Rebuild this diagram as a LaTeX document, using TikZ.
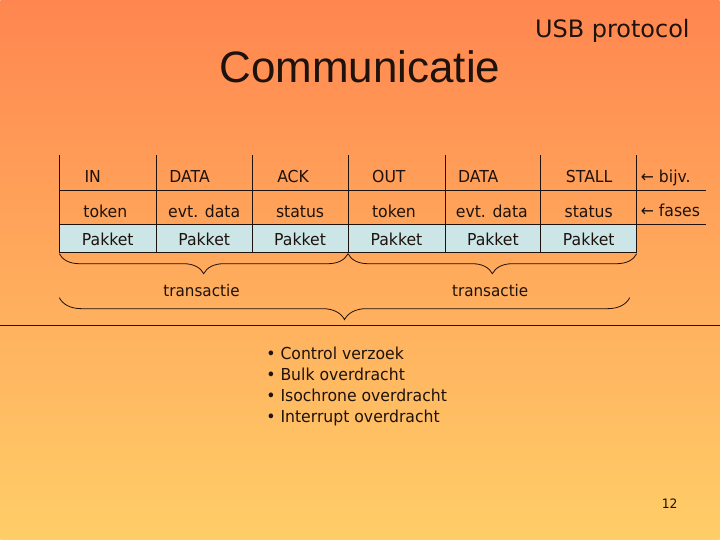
\documentclass[tikz,border=0pt]{standalone}
\usepackage{fontspec}
\setmainfont{DejaVu Sans}[FakeStretch=0.95]
\newfontfamily\titlefont{Liberation Sans}
\newfontfamily\subfont{DejaVu Sans}
\usetikzlibrary{decorations.pathreplacing}
\definecolor{bgtop}{RGB}{255,134,80}
\definecolor{bgbot}{RGB}{255,206,104}
\definecolor{pakblue}{RGB}{204,230,232}
\definecolor{ink}{RGB}{30,18,12}

\begin{document}
\begin{tikzpicture}[
    x=1pt, y=-1pt,
    every node/.style={inner sep=0pt,text=ink},
    cell/.style={anchor=base west,font=\fontsize{16.5}{19}\selectfont},
    mid/.style={anchor=base,font=\fontsize{16.5}{19}\selectfont},
    item/.style={anchor=base west,font=\fontsize{16.5}{19}\selectfont},
    tabline/.style={draw=ink,line width=0.8pt},
    accolade/.style={draw=ink,line width=0.8pt,decorate,decoration={brace,mirror,amplitude=#1}}
  ]
  \shade[top color=bgtop,bottom color=bgbot] (0,0) rectangle (720,540);

  \node[anchor=base west,font=\titlefont\fontsize{44}{50}\selectfont] (title) at (219,83) {Communicatie};
  \node[anchor=base west,font=\subfont\fontsize{24}{28}\selectfont] (sub) at (535,38) {USB protocol};

  \fill[pakblue] (59,225) rectangle (637,253);
  \draw[tabline] (59,155) -- (59,253) -- (637,253) -- (637,155);
  \draw[tabline] (156,155) -- (156,253);
  \draw[tabline] (252,155) -- (252,253);
  \draw[tabline] (348,155) -- (348,253);
  \draw[tabline] (445,155) -- (445,253);
  \draw[tabline] (541,155) -- (541,253);
  \draw[tabline] (59,191) -- (706,191);
  \draw[tabline] (59,225) -- (706,225);

  \node[cell] (in) at (84,183) {IN};
  \node[cell] (data) at (169,183) {DATA};
  \node[cell] (ack) at (277,183) {ACK};
  \node[cell] (out) at (372,183) {OUT};
  \node[cell] (data2) at (458,183) {DATA};
  \node[cell] (stall) at (566,183) {STALL};
  \node[cell] (bijv) at (641,183) {← bijv.};

  \node[mid] (token) at (105,218) {token};
  \node[mid] (evt) at (204,218) {evt. data};
  \node[mid] (status) at (300,218) {status};
  \node[mid] (token2) at (394,218) {token};
  \node[mid] (evt2) at (492,218) {evt. data};
  \node[mid] (status2) at (589,218) {status};
  \node[cell] (fases) at (641,217) {← fases};

  \node[mid] (pk1) at (107.5,245.5) {Pakket};
  \node[mid] (pk2) at (204,245.5) {Pakket};
  \node[mid] (pk3) at (300,245.5) {Pakket};
  \node[mid] (pk4) at (396.5,245.5) {Pakket};
  \node[mid] (pk5) at (493,245.5) {Pakket};
  \node[mid] (pk6) at (589,245.5) {Pakket};

  \draw[accolade=20pt] (59,254) -- (348,254);
  \draw[accolade=20pt] (348,254) -- (637,254);
  \node[cell,font=\fontsize{16}{19}\selectfont] (tr1) at (163,297) {transactie};
  \node[cell,font=\fontsize{16}{19}\selectfont] (tr2) at (452,297) {transactie};
  \draw[accolade=22pt] (59,298) -- (630,298);
  \draw[tabline] (0,326) -- (720,326);

  \node[item] (b1) at (266,360) {• Control verzoek};
  \node[item] (b2) at (266,381) {• Bulk overdracht};
  \node[item] (b3) at (266,402) {• Isochrone overdracht};
  \node[item] (b4) at (266,423) {• Interrupt overdracht};

  \node[anchor=base west,font=\fontsize{13}{15}\selectfont] (nr) at (662,509) {12};
\end{tikzpicture}
\end{document}
